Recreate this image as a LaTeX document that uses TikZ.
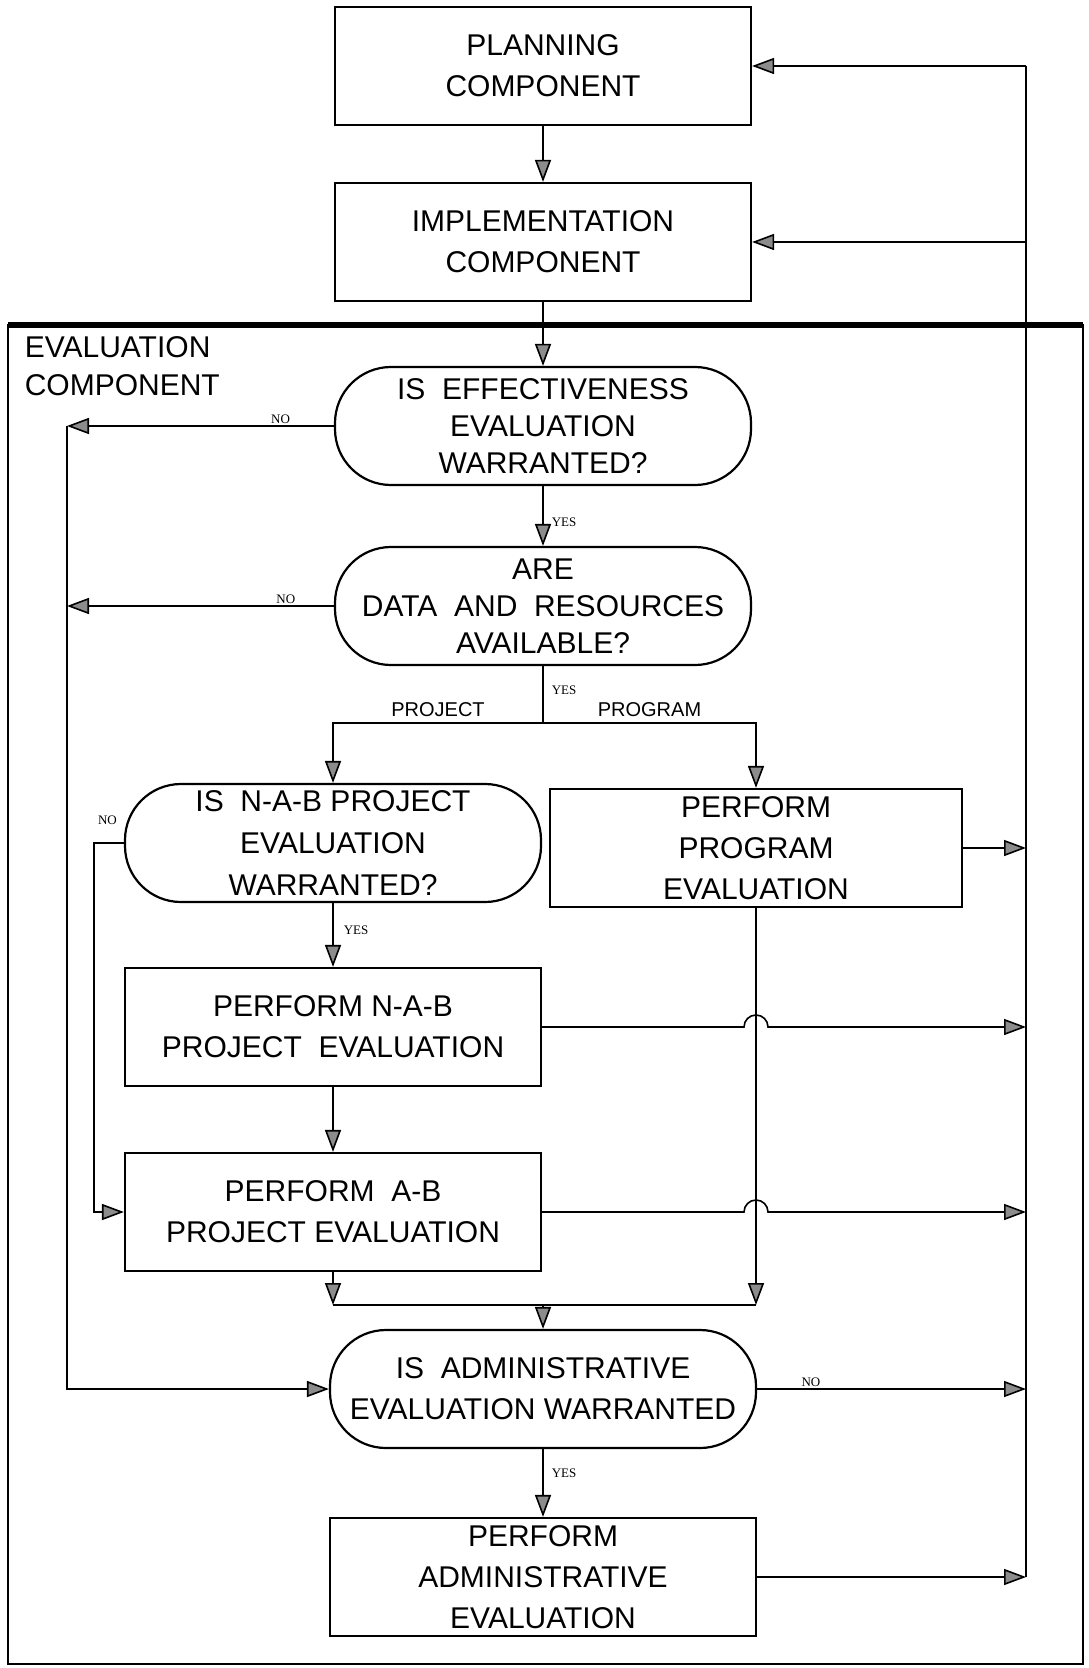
\documentclass[tikz,border=0pt]{standalone}
\usepackage{fontspec}
\setmainfont{Liberation Sans}
\newfontfamily\yesnofont{Liberation Serif}
\usetikzlibrary{positioning, arrows.meta}

\tikzset{
    box/.style={draw, line width=1.1pt, minimum width=208pt, minimum height=59pt,
        inner sep=1pt, align=center, font=\fontsize{15}{20.5}\selectfont},
    decision/.style={box, rounded corners=28pt},
    answer/.style={font=\yesnofont\fontsize{6.5}{7}\selectfont, inner sep=1pt},
    branch/.style={font=\fontsize{10}{12}\selectfont, inner sep=3pt},
}

\begin{document}
\begin{tikzpicture}[x=1pt, y=1pt, node distance=90pt, on grid, line width=0.8pt,
        >={Triangle[length=11pt, width=8pt, fill=black!45]}]
    \useasboundingbox (0,0) rectangle (544,-834);

    % frame of the evaluation part
    \draw[line width=1.2pt] (4,-162.5) rectangle (541.5,-832);
    \draw[line width=2.8pt] (4,-162.5) -- (541.5,-162.5);
    \node[anchor=north west, align=left, inner sep=0pt,
        font=\fontsize{15}{18.75}\selectfont] (evallabel) at (12,-168) {EVALUATION\\COMPONENT};

    \node[box] (plan) at (271.5,-33) {PLANNING\\COMPONENT};
    \node[box, below=88pt of plan] (impl) {IMPLEMENTATION\\COMPONENT};
    \node[decision, below=92pt of impl, font=\fontsize{15}{18.5}\selectfont] (d1)
        {IS\ \ EFFECTIVENESS\\EVALUATION\\WARRANTED?};
    \node[decision, below=of d1, font=\fontsize{15}{18.5}\selectfont] (d2)
        {ARE\\DATA\ \ AND\ \ RESOURCES\\AVAILABLE?};
    \node[decision, below left=118.5pt and 105pt of d2, font=\fontsize{15}{21}\selectfont] (d3)
        {IS\ \ N-A-B PROJECT\\EVALUATION\\WARRANTED?};
    \node[box, minimum width=206pt, below right=121pt and 106.5pt of d2] (prog)
        {PERFORM\\PROGRAM\\EVALUATION};
    \node[box, below=92pt of d3] (nab) {PERFORM N-A-B\\PROJECT\ \ EVALUATION};
    \node[box, below=92.5pt of nab] (ab) {PERFORM\ \ A-B\\PROJECT EVALUATION};
    \node[decision, minimum width=213pt, below=391.5pt of d2] (d4)
        {IS\ \ ADMINISTRATIVE\\EVALUATION WARRANTED};
    \node[box, minimum width=213pt, below=94pt of d4] (admin)
        {PERFORM\\ADMINISTRATIVE\\EVALUATION};

    \coordinate (back) at (513,-33);    % return line on the right
    \coordinate (skip) at (33.5,-213);  % by-pass on the left
    \coordinate (nabskip) at (47,-423);
    \coordinate[below=58.5pt of d2] (split);
    \coordinate[above=42pt of d4] (merge);

    \path[->]
        (plan) edge (impl)
        (impl) edge (d1)
        (d1) edge node[answer, right=3pt, pos=0.6] {YES} (d2)
        (d3) edge node[answer, right=4pt, pos=0.42] {YES} (nab)
        (nab) edge (ab)
        (merge) edge (d4)
        (d4) edge node[answer, right=3pt, pos=0.36] {YES} (admin);

    \draw (d2) -- node[answer, right=3pt, pos=0.42] {YES} (split);
    \draw[->] (split) -| node[branch, above, pos=0.25] {PROJECT} (d3);
    \draw[->] (split) -| node[branch, above, pos=0.25] {PROGRAM} (prog);

    % no-branches to the left
    \draw[->] (d1) -- node[answer, above, pos=0.2] {NO} (d1 -| skip);
    \draw[->] (d2) -- node[answer, above, pos=0.18] {NO} (d2 -| skip);
    \draw[->] (d1 -| skip) |- (d4);
    \draw[->] (d3) -- node[answer, above=8pt, pos=0.55] {NO} (d3 -| nabskip) |- (ab);

    % joining above the last decision
    \draw[->] (prog) -- (prog |- merge);
    \draw[->] (ab) -- (ab |- merge);
    \draw (ab |- merge) -- (prog |- merge);

    % back to planning and implementation
    \draw[->] (prog) -- (prog -| back);
    \draw[->] (nab) -- ([xshift=-6pt]nab -| prog) arc[start angle=180, end angle=0, radius=6pt] -- (nab -| back);
    \draw[->] (ab) -- ([xshift=-6pt]ab -| prog) arc[start angle=180, end angle=0, radius=6pt] -- (ab -| back);
    \draw[->] (d4) -- node[answer, above, pos=0.2] {NO} (d4 -| back);
    \draw[->] (admin) -- (admin -| back);
    \draw (admin -| back) -- (back);
    \draw[->] (back) -- (plan);
    \draw[->] (impl -| back) -- (impl);
\end{tikzpicture}
\end{document}
